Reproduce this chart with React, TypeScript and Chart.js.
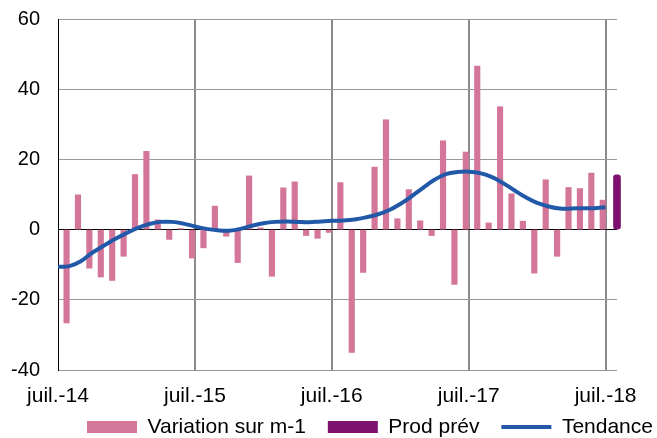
import React, { useEffect, useRef } from "react";
import { Chart, registerables } from "chart.js";

Chart.register(...registerables);

// Months of the x axis (one slot per month)
const months: string[] = [
  "juil.-14", "août-14", "sept.-14", "oct.-14", "nov.-14", "déc.-14",
  "janv.-15", "févr.-15", "mars-15", "avr.-15", "mai-15", "juin-15",
  "juil.-15", "août-15", "sept.-15", "oct.-15", "nov.-15", "déc.-15",
  "janv.-16", "févr.-16", "mars-16", "avr.-16", "mai-16", "juin-16",
  "juil.-16", "août-16", "sept.-16", "oct.-16", "nov.-16", "déc.-16",
  "janv.-17", "févr.-17", "mars-17", "avr.-17", "mai-17", "juin-17",
  "juil.-17", "août-17", "sept.-17", "oct.-17", "nov.-17", "déc.-17",
  "janv.-18", "févr.-18", "mars-18", "avr.-18", "mai-18", "juin-18",
  "juil.-18",
];

// Variation sur m-1 (juil.-14 .. juin-18)
const variation: number[] = [
  -26.6, 9.9, -11.0, -13.5, -14.5, -7.6, 15.7, 22.3, 2.8, -2.8, 0.3, -8.1,
  -5.2, 6.7, -1.9, -9.4, 15.3, 0.5, -13.3, 11.9, 13.6, -1.7, -2.5, -0.8,
  13.4, -35.0, -12.2, 17.8, 31.3, 3.1, 11.4, 2.5, -1.7, 25.3, -15.6, 22.1,
  46.6, 1.9, 35.0, 10.2, 2.4, -12.4, 14.2, -7.6, 12.0, 11.7, 16.1, 8.4,
];

// Prod prév
const prodMonths: string[] = ["juil.-18"];
const prodPrev: number[] = [15.6];

// Tendance (juil.-14 .. juil.-18)
const tendance: number[] = [
  -10.6, -10.4, -9.0, -6.6, -4.6, -2.7, -1.0, 0.5, 1.6, 2.2, 2.2, 1.7,
  0.9, 0.2, -0.2, -0.3, 0.2, 1.1, 1.8, 2.2, 2.3, 2.2, 2.1, 2.3,
  2.5, 2.6, 2.9, 3.5, 4.3, 5.5, 7.3, 9.5, 11.9, 14.2, 15.8, 16.4,
  16.5, 16.1, 15.0, 13.3, 11.2, 9.2, 7.6, 6.6, 6.0, 6.0, 6.1, 6.1, 6.4,
];

const yTicks = { min: -40, max: 60, step: 20 };

const PINK = "#D47699";
const PURPLE = "#7E1170";
const BLUE = "#2159A8";
const FONT = "'Liberation Sans', Arial, sans-serif";

const VAR_OFFSET = 0.75;
const PROD_OFFSET = 1.0;

const legendShift = {
  id: "legendShift",
  afterLayout(chart: any) {
    const lg = chart.legend;
    if (!lg) return;
    lg.left += 65;
    lg.right += 65;
    lg.top -= 13.5;
    lg.bottom -= 13.5;
  },
};

export default function App() {
  const ref = useRef<HTMLCanvasElement | null>(null);

  useEffect(() => {
    if (!ref.current) return;
    Chart.defaults.font.family = FONT;
    const julyIdx = months
      .map((m, i) => (m.startsWith("juil.") ? i : -1))
      .filter((i) => i >= 0);

    const chart = new Chart(ref.current, {
      type: "bar",
      data: {
        datasets: [
          {
            type: "bar",
            label: "Variation sur m-1",
            data: variation.map((v, i) => ({ x: i + VAR_OFFSET, y: v })),
            backgroundColor: PINK,
            borderWidth: 0,
            barThickness: 5.5,
            grouped: false,
            order: 2,
          } as any,
          {
            type: "bar",
            label: "Prod prév",
            data: prodPrev.map((v, i) => ({
              x: months.indexOf(prodMonths[i]) + PROD_OFFSET,
              y: v,
            })),
            backgroundColor: PURPLE,
            borderWidth: 0,
            barThickness: 7,
            borderRadius: 3,
            borderSkipped: false,
            grouped: false,
            clip: false,
            order: 1,
          } as any,
          {
            type: "line",
            label: "Tendance",
            data: tendance.map((v, i) => ({ x: i, y: v })),
            borderColor: BLUE,
            backgroundColor: BLUE,
            borderWidth: 4,
            pointRadius: 0,
            tension: 0.4,
            order: 0,
          } as any,
        ],
      },
      options: {
        animation: false,
        responsive: true,
        maintainAspectRatio: false,
        layout: { padding: { top: 19, right: 40, bottom: -23, left: 0 } },
        plugins: {
          tooltip: { enabled: false },
          legend: {
            position: "bottom",
            align: "start",
            labels: {
              usePointStyle: true,
              pointStyleWidth: 50,
              boxHeight: 12,
              padding: 22,
              color: "#000",
              font: { size: 21, family: FONT },
              generateLabels: (c: any) =>
                c.data.datasets.map((ds: any, i: number) => ({
                  text: ds.label,
                  fillStyle: ds.type === "line" ? ds.borderColor : ds.backgroundColor,
                  strokeStyle: ds.type === "line" ? ds.borderColor : ds.backgroundColor,
                  lineWidth: ds.type === "line" ? 4 : 0,
                  pointStyle: ds.type === "line" ? "line" : "rect",
                  hidden: false,
                  datasetIndex: i,
                  fontColor: "#000",
                })),
            },
          },
        },
        scales: {
          x: {
            type: "linear",
            min: 0,
            max: months.length,
            offset: false,
            afterBuildTicks: (s: any) => {
              s.ticks = julyIdx.map((v) => ({ value: v }));
            },
            afterFit: (s: any) => {
              s.height = 38;
            },
            ticks: {
              autoSkip: false,
              maxRotation: 0,
              padding: 14,
              color: "#000",
              font: { size: 21, family: FONT },
              callback: (v: any) => months[v as number] ?? "",
            },
            grid: {
              offset: false,
              drawTicks: false,
              lineWidth: 2,
              color: (ctx: any) => (ctx.tick && ctx.tick.value === 0 ? "rgba(0,0,0,0)" : "#8a8a8a"),
            },
            border: { display: false },
          },
          y: {
            min: yTicks.min,
            max: yTicks.max,
            afterFit: (s: any) => {
              s.width = 58;
            },
            ticks: {
              stepSize: yTicks.step,
              padding: 2,
              color: "#000",
              font: { size: 20, family: FONT },
              callback: (v: any) => String(v),
            },
            grid: {
              drawTicks: true,
              tickLength: 16,
              tickColor: "rgba(0,0,0,0)",
              lineWidth: 1,
              color: (ctx: any) => (ctx.tick && ctx.tick.value === 0 ? "#000" : "#999"),
            },
            border: { display: true, color: "#000", width: 1 },
          },
        },
      } as any,
      plugins: [legendShift],
    });
    return () => chart.destroy();
  }, []);

  return (
    <div style={{ position: "absolute", left: 0, top: 0, width: 657, height: 438 }}>
      <canvas ref={ref} />
    </div>
  );
}
